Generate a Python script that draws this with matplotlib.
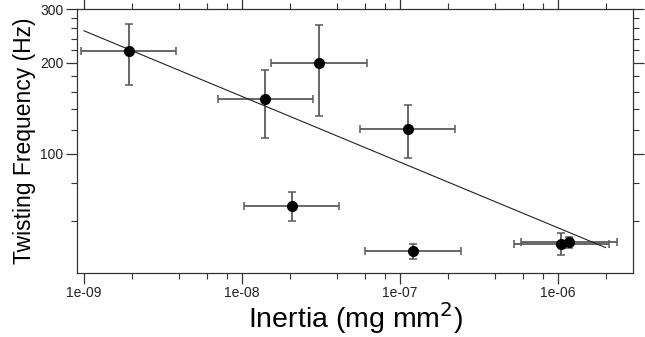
import matplotlib
matplotlib.use("Agg")
import matplotlib.pyplot as plt
from matplotlib.ticker import FixedLocator, FuncFormatter, NullFormatter
import numpy as np

plt.rcParams['font.family'] = ['Liberation Sans', 'DejaVu Sans']

# Measurements: moment of inertia (mg mm^2) and twisting frequency (Hz)
inertia = [1.93e-9, 1.39e-8, 3.08e-8, 1.12e-7, 2.07e-8, 1.21e-7, 1.04e-6, 1.17e-6]
inertia_lo = [0.96e-9, 7.0e-9, 1.53e-8, 5.6e-8, 1.03e-8, 6.0e-8, 5.3e-7, 5.8e-7]
inertia_hi = [3.85e-9, 2.8e-8, 6.2e-8, 2.23e-7, 4.12e-8, 2.44e-7, 2.11e-6, 2.35e-6]
freq = [218, 151.5, 200, 120.3, 66.9, 47.6, 50.4, 51.2]
freq_lo = [168.7, 113, 133, 96.6, 59.7, 44.7, 46.3, 48.7]
freq_hi = [267.6, 188.5, 267, 144.4, 74.6, 50.4, 54.7, 53.0]

# Power-law fit endpoints
fit_x = [1e-9, 2e-6]
fit_y = [255, 48.9]

x_major = [1e-9, 1e-8, 1e-7, 1e-6]
x_minor = [m * 10.0 ** e for e in range(-9, -5) for m in (2, 4, 6, 8)]
y_major = [100, 200, 300]
y_minor = [60, 80, 120, 140, 160, 180, 220, 240, 260, 280]

fig = plt.figure(figsize=(6.45, 3.37), dpi=100)
ax = fig.add_axes([0.119, 0.19, 0.863, 0.782])

x = np.array(inertia)
y = np.array(freq)
xerr = [x - np.array(inertia_lo), np.array(inertia_hi) - x]
yerr = [y - np.array(freq_lo), np.array(freq_hi) - y]

ax.errorbar(x, y, xerr=xerr, yerr=yerr, fmt='none', ecolor='#5a5a5a',
            elinewidth=1.3, capsize=3, capthick=1.1, zorder=2)
ax.plot(fit_x, fit_y, color='#222222', lw=0.8, zorder=3)
ax.plot(x, y, 'o', color='black', markersize=7, zorder=4)

ax.set_xscale('log')
ax.set_yscale('log')
ax.set_xlim(0.9e-9, 3.0e-6)
ax.set_ylim(40.3, 300)

ax.xaxis.set_major_locator(FixedLocator(x_major))
ax.xaxis.set_minor_locator(FixedLocator(x_minor))
ax.xaxis.set_major_formatter(FuncFormatter(lambda v, p: f"{v:.0e}"))
ax.xaxis.set_minor_formatter(NullFormatter())
ax.yaxis.set_major_locator(FixedLocator(y_major))
ax.yaxis.set_minor_locator(FixedLocator(y_minor))
ax.yaxis.set_major_formatter(FuncFormatter(lambda v, p: f"{v:.0f}"))
ax.yaxis.set_minor_formatter(NullFormatter())

ax.tick_params(which='both', direction='out', top=True, right=True,
               labeltop=False, labelright=False, color='#333333',
               labelsize=10, labelcolor='#222222')
ax.tick_params(which='major', length=8, width=0.9, pad=1.5)
ax.tick_params(which='minor', length=4.5, width=0.8)
for s in ax.spines.values():
    s.set_linewidth(0.9)
    s.set_color('#333333')

ax.set_xlabel('Inertia (mg mm$^2$)', fontsize=20.5, labelpad=0)
ax.set_ylabel('Twisting Frequency (Hz)', fontsize=16.5, labelpad=3)

fig.savefig('out.png', dpi=100)
